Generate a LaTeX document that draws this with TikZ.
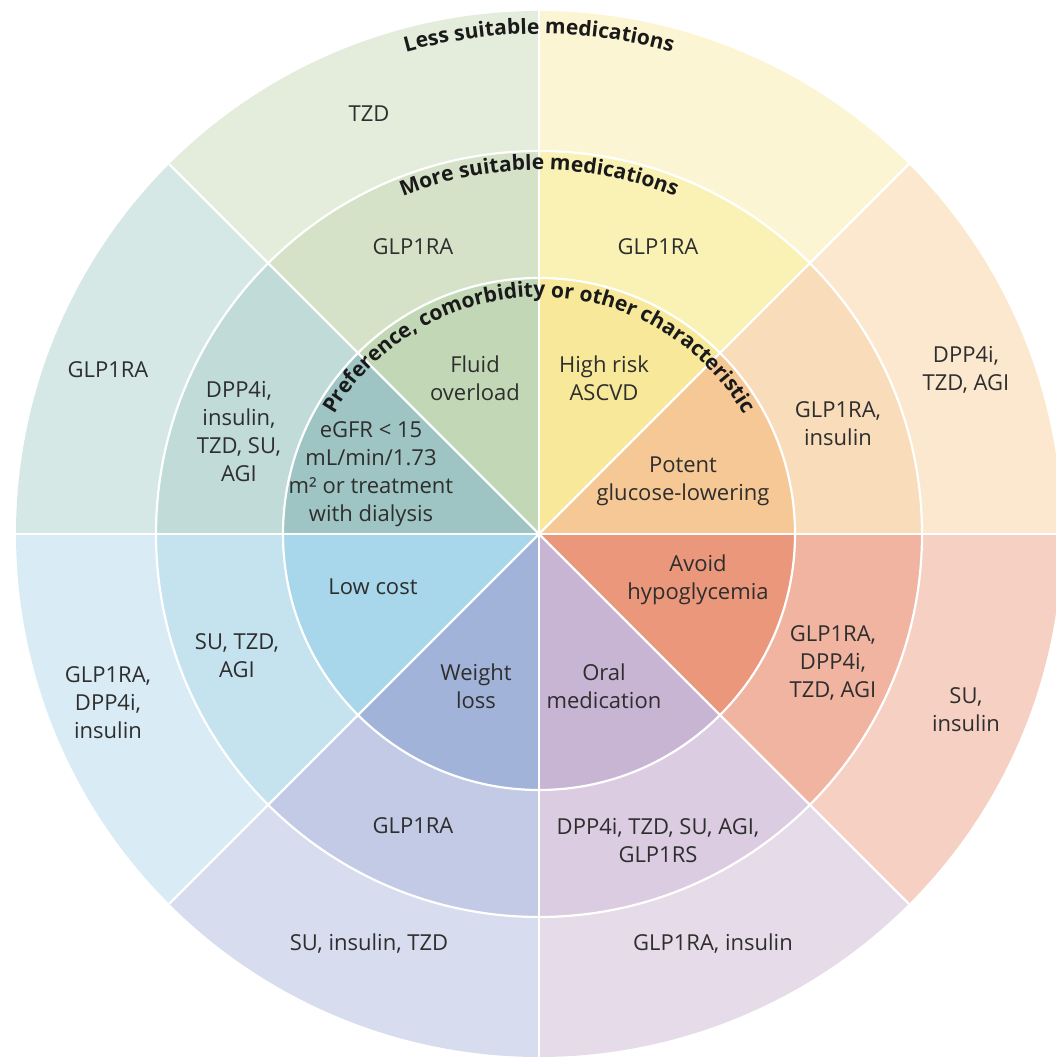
\documentclass[tikz,border=0pt]{standalone}
\usepackage{fontspec}
\setmainfont{Open Sans}
\usetikzlibrary{decorations.text}
% inner / middle / outer shades per sector
\definecolor{ori}{HTML}{F5C895}\definecolor{orm}{HTML}{F9DCBA}\definecolor{oro}{HTML}{FBE8CF}
\definecolor{yei}{HTML}{F8E99A}\definecolor{yem}{HTML}{FAF1B5}\definecolor{yeo}{HTML}{FCF5D3}
\definecolor{gri}{HTML}{C2D7B5}\definecolor{grm}{HTML}{D5E2C8}\definecolor{gro}{HTML}{E4ECDC}
\definecolor{tei}{HTML}{9EC5C3}\definecolor{tem}{HTML}{C0DBD8}\definecolor{teo}{HTML}{D5E8E6}
\definecolor{bli}{HTML}{A8D6EA}\definecolor{blm}{HTML}{C5E2EF}\definecolor{blo}{HTML}{D9ECF5}
\definecolor{bpi}{HTML}{A2B3D9}\definecolor{bpm}{HTML}{C2CAE6}\definecolor{bpo}{HTML}{D7DCEF}
\definecolor{pui}{HTML}{C8B4D3}\definecolor{pum}{HTML}{DBCCE2}\definecolor{puo}{HTML}{E6DBE8}
\definecolor{rei}{HTML}{EB977C}\definecolor{rem}{HTML}{F0B4A0}\definecolor{reo}{HTML}{F6D1C3}
\definecolor{txt}{HTML}{2E2E2E}
\definecolor{hdr}{HTML}{1A1A1A}
\newcommand\curvefont{\fontsize{21}{25}\selectfont\bfseries}
\begin{document}
\begin{tikzpicture}[x=1pt,y=1pt,
  lbl/.style={font=\fontsize{22}{28}\selectfont, text=txt, align=center, inner sep=0pt},
  sep/.style={white, line width=2.2pt}]
\useasboundingbox (0,0) rectangle (1055,1060);
\coordinate (C) at (539,526);
% wedges
\foreach \a/\co/\cm/\ci in {0/oro/orm/ori, 45/yeo/yem/yei, 90/gro/grm/gri, 135/teo/tem/tei,
  180/blo/blm/bli, 225/bpo/bpm/bpi, 270/puo/pum/pui, 315/reo/rem/rei}{
  \fill[\co] (C) -- ++(\a:523) arc[start angle=\a, end angle=\a+45, radius=523] -- cycle;
  \fill[\cm] (C) -- ++(\a:383) arc[start angle=\a, end angle=\a+45, radius=383] -- cycle;
  \fill[\ci] (C) -- ++(\a:256) arc[start angle=\a, end angle=\a+45, radius=256] -- cycle;
}
% separators
\draw[sep] (C) circle[radius=256];
\draw[sep] (C) circle[radius=383];
\foreach \a in {0,45,...,315}{ \draw[sep] (C) -- ++(\a:523); }
% curved headings
\path[decoration={text along path, text={|\curvefont|Less suitable medications}, text align=center, text color=hdr}, decorate]
  (C) ++(140:500) arc[start angle=140, end angle=40, radius=500];
\path[decoration={text along path, text={|\curvefont|More suitable medications}, text align=center, text color=hdr}, decorate]
  (C) ++(140:364) arc[start angle=140, end angle=40, radius=364];
\path[decoration={text along path, text={|\curvefont|Preference, comorbidity or other characteristic}, text align=center, text color=hdr}, decorate]
  (C) ++(165:237) arc[start angle=165, end angle=15, radius=237];
% inner ring
\node[lbl] (i1) at (683,579) {Potent\\glucose-lowering};
\node[lbl] (i2) at (604,682) {High risk\\ASCVD};
\node[lbl] (i3) at (475,682) {Fluid\\overload};
\node[lbl] (i4) at (371,586) {eGFR < 15\\mL/min/1.73\\m² or treatment\\with dialysis};
\node[lbl] (i5) at (373,473) {Low cost};
\node[lbl] (i6) at (476,374) {Weight\\loss};
\node[lbl] (i7) at (604,374) {Oral\\medication};
\node[lbl] (i8) at (698,480) {Avoid\\hypoglycemia};
% middle ring
\node[lbl] (m1) at (838,636) {GLP1RA,\\insulin};
\node[lbl] (m2) at (658,813) {GLP1RA};
\node[lbl] (m3) at (413,813) {GLP1RA};
\node[lbl] (m4) at (239,628) {DPP4i,\\insulin,\\TZD, SU,\\AGI};
\node[lbl] (m5) at (237,404) {SU, TZD,\\AGI};
\node[lbl] (m6) at (413,234) {GLP1RA};
\node[lbl] (m7) at (658,219) {DPP4i, TZD, SU, AGI,\\GLP1RS};
\node[lbl] (m8) at (833,397) {GLP1RA,\\DPP4i,\\TZD, AGI};
% outer ring
\node[lbl] (o1) at (966,690) {DPP4i,\\TZD, AGI};
\node[lbl] (o3) at (369,946) {TZD};
\node[lbl] (o4) at (108,690) {GLP1RA};
\node[lbl] (o5) at (108,357) {GLP1RA,\\DPP4i,\\insulin};
\node[lbl] (o6) at (369,116) {SU, insulin, TZD};
\node[lbl] (o7) at (713,116) {GLP1RA, insulin};
\node[lbl] (o8) at (966,350) {SU,\\insulin};
\end{tikzpicture}
\end{document}
